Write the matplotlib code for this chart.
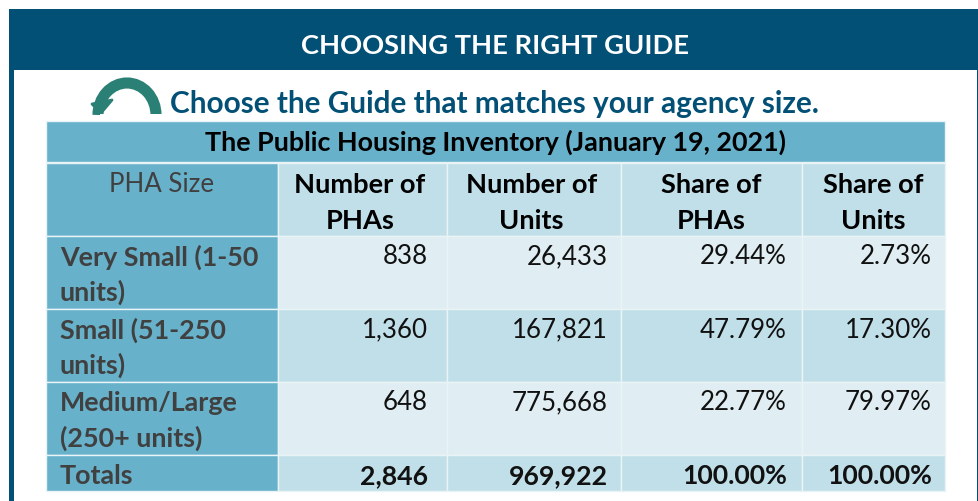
import matplotlib
matplotlib.use("Agg")
import matplotlib.pyplot as plt
from matplotlib.patches import Rectangle, Polygon, Arc

plt.rcParams['font.family'] = ['Lato', 'DejaVu Sans']

banner_title = "CHOOSING THE RIGHT GUIDE"
subtitle = "Choose the Guide that matches your agency size."
table_title = "The Public Housing Inventory (January 19, 2021)"
corner_label = "PHA Size"
column_headers = ["Number of\nPHAs", "Number of\nUnits", "Share of\nPHAs", "Share of\nUnits"]
row_labels = ["Very Small (1-50\nunits)", "Small (51-250\nunits)", "Medium/Large\n(250+ units)"]
phas = ["838", "1,360", "648"]
units = ["26,433", "167,821", "775,668"]
share_phas = ["29.44%", "47.79%", "22.77%"]
share_units = ["2.73%", "17.30%", "79.97%"]
totals_label = "Totals"
totals = ["2,846", "969,922", "100.00%", "100.00%"]

NAVY = "#025076"
TEAL = "#2A8074"
DARK = "#67B1CB"
MID = "#C1DFE9"
LIGHT = "#E0EEF3"
GRID = "#EAF4F7"
GREY = "#404040"
FS_BOLD = 19.6
FS_REG = 18.6

fig = plt.figure(figsize=(9.79, 5.01), dpi=100, facecolor="white")
ax = fig.add_axes([0, 0, 1, 1])
ax.set_xlim(0, 979)
ax.set_ylim(501, 0)
ax.axis("off")


def rect(x0, y0, x1, y1, color, z=1, edge=None):
    ax.add_patch(Rectangle((x0, y0), x1 - x0, y1 - y0, facecolor=color,
                           edgecolor=edge or "none", linewidth=1 if edge else 0, zorder=z))


# frame and banner
rect(9, 9, 979, 70, NAVY)
rect(9, 70, 14, 501, NAVY)
rect(977, 70, 979, 501, NAVY)
ax.text(495.5, 46, banner_title, color="white", fontsize=FS_BOLD, fontweight="bold",
        ha="center", va="center")

# curved arrow
ax.add_patch(Arc((127, 115), 58, 64, theta1=180, theta2=360, color=TEAL, lw=8, zorder=3))
ax.add_patch(Polygon([[92, 104], [112, 100], [101, 113]], closed=True, facecolor=TEAL,
                     edgecolor=TEAL, linewidth=2, joinstyle="round", zorder=3))
rect(100, 113.5, 170, 121, "white", z=3.5)
ax.text(170, 104, subtitle, color=NAVY, fontsize=21.4, fontweight="bold",
        ha="left", va="center", zorder=4)

# table geometry
col_edges = [46, 278, 447, 621, 802, 945]
row_edges = [163, 236, 309, 382, 455, 491]

rect(46, 121, 945, 162, DARK, z=3.6, edge=GRID)
ax.text(495.5, 142, table_title, color="black", fontsize=19.4, fontweight="bold",
        ha="center", va="center", zorder=4)

row_fills = [MID, LIGHT, MID, LIGHT, MID]
for r, fill in enumerate(row_fills):
    y0, y1 = row_edges[r], row_edges[r + 1]
    rect(col_edges[0], y0, col_edges[1], y1, DARK, edge=GRID)
    for c in range(1, 5):
        rect(col_edges[c], y0, col_edges[c + 1], y1, fill, edge=GRID)

ax.text(162, 185, corner_label, color=GREY, fontsize=FS_REG, ha="center", va="center", zorder=4)
header_x = [360, 531.5, 711, 873.5]
for head, cx in zip(column_headers, header_x):
    l1, l2 = head.split("\n")
    ax.text(cx, 185, l1, fontsize=FS_BOLD, fontweight="bold", ha="center", va="center", zorder=4)
    ax.text(cx, 221, l2, fontsize=FS_BOLD, fontweight="bold", ha="center", va="center", zorder=4)

columns = [phas, units, share_phas, share_units]
right_x = [428, 608, 787, 932]
for r, label in enumerate(row_labels):
    y0 = row_edges[r + 1]
    l1, l2 = label.split("\n")
    ax.text(60, y0 + 21, l1, color=GREY, fontsize=19.4, fontweight="bold", ha="left", va="center", zorder=4)
    ax.text(60, y0 + 56, l2, color=GREY, fontsize=19.4, fontweight="bold", ha="left", va="center", zorder=4)
    for col, x in zip(columns, right_x):
        ax.text(x, y0 + 21, col[r], color="#111111", fontsize=FS_REG, ha="right", va="center", zorder=4)

ax.text(60, 476, totals_label, color=GREY, fontsize=19.4, fontweight="bold", ha="left", va="center", zorder=4)
for val, x in zip(totals, right_x):
    ax.text(x, 476, val, color="#111111", fontsize=19.2, fontweight="bold", ha="right", va="center", zorder=4)

fig.savefig("out.png", dpi=100)
